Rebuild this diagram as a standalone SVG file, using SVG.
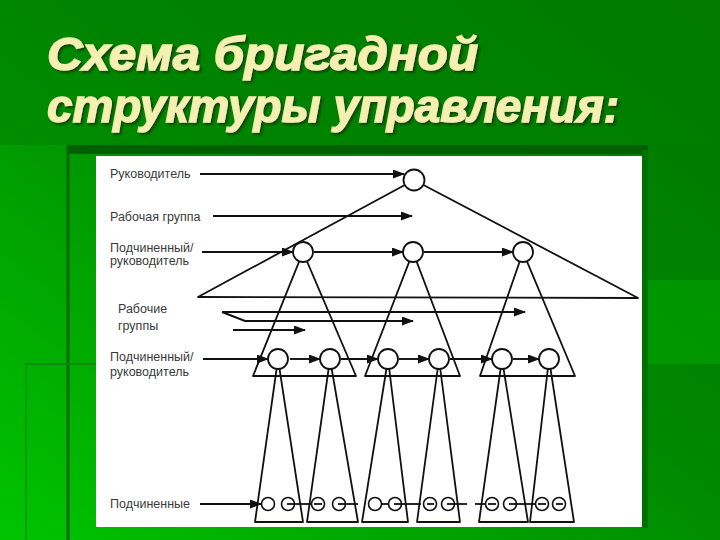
<svg xmlns="http://www.w3.org/2000/svg" width="720" height="540" viewBox="0 0 720 540">
<defs>
<linearGradient id="bg" x1="1" y1="0" x2="0" y2="1">
<stop offset="0" stop-color="#007600"/>
<stop offset="0.45" stop-color="#008800"/>
<stop offset="1" stop-color="#00c400"/>
</linearGradient>
<marker id="ah" markerWidth="12" markerHeight="9" refX="11" refY="4.5" orient="auto" markerUnits="userSpaceOnUse">
<path d="M0,0 L12,4.5 L0,9 z" fill="#111"/>
</marker>
<filter id="shadow" x="-5%" y="-20%" width="110%" height="140%">
<feDropShadow dx="2" dy="2" stdDeviation="0.8" flood-color="#1a3010" flood-opacity="0.8"/>
</filter>
</defs>
<style>
.ln{stroke:#111;stroke-width:1.8;fill:none;stroke-linejoin:round}
.ar{stroke:#111;stroke-width:1.9;fill:none;marker-end:url(#ah)}
.nd{fill:#fff;stroke:#111;stroke-width:1.8}
.sd{fill:#fff;stroke:#111;stroke-width:1.6}
.lb{font-family:"Liberation Sans",Arial,sans-serif;font-size:12.5px;fill:#3a3a3a}
.tt{font-family:"Liberation Sans",Arial,sans-serif;font-size:46px;font-weight:bold;font-style:italic;fill:#f3f0b2;stroke:#f3f0b2;stroke-width:1.4;filter:url(#shadow)}
</style>

<g id="background">
<rect x="0" y="0" width="720" height="540" fill="url(#bg)"/>
<rect x="0" y="0" width="720" height="145" fill="#008000" opacity="0.5"/>
<rect x="648" y="280" width="72" height="84" fill="#00a400" opacity="0.6"/>
<line x1="68" y1="145" x2="68" y2="540" stroke="#006a00" stroke-width="3"/>
<line x1="25" y1="364" x2="96" y2="364" stroke="#0a8a0a" stroke-width="2"/>
<line x1="26" y1="364" x2="26" y2="540" stroke="#0a9a0a" stroke-width="2"/>
<rect x="68" y="145" width="580" height="9" fill="#006000"/>
<rect x="642" y="150" width="6" height="378" fill="#007000"/>
<rect x="96" y="156" width="546" height="371" fill="#ffffff"/>
</g>

<g id="title">
<text class="tt" x="47" y="70" textLength="431" lengthAdjust="spacingAndGlyphs">Схема бригадной</text>
<text class="tt" x="47" y="122" textLength="572" lengthAdjust="spacingAndGlyphs">структуры управления:</text>
</g>

<g id="labels">
<text class="lb" x="110" y="178">Руководитель</text>
<text class="lb" x="110" y="221">Рабочая группа</text>
<text class="lb" x="110" y="252">Подчиненный/</text>
<text class="lb" x="110" y="265">руководитель</text>
<text class="lb" x="118" y="313">Рабочие</text>
<text class="lb" x="118" y="330">группы</text>
<text class="lb" x="110" y="361">Подчиненный/</text>
<text class="lb" x="110" y="376">руководитель</text>
<text class="lb" x="110" y="508">Подчиненные</text>
</g>

<g id="groups">
<polygon id="team-top" class="ln" points="414,180 198,297 638,298"/>
<polygon id="team-a" class="ln" points="303,252 253,376 356,376"/>
<polygon id="team-b" class="ln" points="413,252 365,376 460,376"/>
<polygon id="team-c" class="ln" points="523,252 480,376 575,376"/>
<polygon id="team-a1" class="ln" points="278,359 255,522 303,522"/>
<polygon id="team-a2" class="ln" points="330,359 307,522 358,522"/>
<polygon id="team-b1" class="ln" points="388,359 362,522 408,522"/>
<polygon id="team-b2" class="ln" points="439,359 417,522 460,522"/>
<polygon id="team-c1" class="ln" points="502,359 479,522 528,522"/>
<polygon id="team-c2" class="ln" points="549,359 530,522 574,522"/>
</g>

<g id="connectors">
<line class="ar" x1="200" y1="174" x2="404" y2="174"/>
<line class="ar" x1="213" y1="216" x2="412" y2="216"/>
<line class="ar" x1="202" y1="252" x2="293" y2="252"/>
<line class="ar" x1="314" y1="252" x2="403" y2="252"/>
<line class="ar" x1="424" y1="252" x2="513" y2="252"/>
<line class="ar" x1="222" y1="312" x2="525" y2="312"/>
<polyline class="ar" points="222,312 245,321 413,321"/>
<line class="ar" x1="233" y1="330" x2="305" y2="330"/>
<line class="ar" x1="203" y1="359" x2="268" y2="359"/>
<line class="ar" x1="290" y1="359" x2="320" y2="359"/>
<line class="ar" x1="341" y1="359" x2="378" y2="359"/>
<line class="ar" x1="399" y1="359" x2="429" y2="359"/>
<line class="ar" x1="450" y1="359" x2="492" y2="359"/>
<line class="ar" x1="513" y1="359" x2="539" y2="359"/>
<line class="ar" x1="200" y1="504" x2="261" y2="504"/>
<line class="ln" x1="295" y1="504" x2="312" y2="504"/>
<line class="ln" x1="345" y1="504" x2="358" y2="504"/>
<line class="ln" x1="382" y1="504" x2="388" y2="504"/>
<line class="ln" x1="402" y1="504" x2="421" y2="504"/>
<line class="ln" x1="455" y1="504" x2="467" y2="504"/>
<line class="ln" x1="475" y1="504" x2="486" y2="504"/>
<line class="ln" x1="517" y1="504" x2="535" y2="504"/>
</g>

<g id="leader"><circle class="nd" cx="414" cy="180" r="10.5"/></g>
<g id="mid-a"><circle class="nd" cx="303" cy="252" r="10"/></g>
<g id="mid-b"><circle class="nd" cx="413" cy="252" r="10"/></g>
<g id="mid-c"><circle class="nd" cx="523" cy="252" r="10"/></g>
<g id="low-a1"><circle class="nd" cx="278" cy="359" r="10"/></g>
<g id="low-a2"><circle class="nd" cx="330" cy="359" r="10"/></g>
<g id="low-b1"><circle class="nd" cx="388" cy="359" r="10"/></g>
<g id="low-b2"><circle class="nd" cx="439" cy="359" r="10"/></g>
<g id="low-c1"><circle class="nd" cx="502" cy="359" r="10"/></g>
<g id="low-c2"><circle class="nd" cx="549" cy="359" r="10"/></g>

<g id="sub-1"><circle class="sd" cx="268" cy="504" r="6.5"/></g>
<g id="sub-2"><circle class="sd" cx="288" cy="504" r="6.5"/><line class="ln" x1="287" y1="504" x2="295" y2="504"/></g>
<g id="sub-3"><circle class="sd" cx="318" cy="504" r="6.5"/><line class="ln" x1="314" y1="504" x2="322" y2="504"/></g>
<g id="sub-4"><circle class="sd" cx="339" cy="504" r="6.5"/><line class="ln" x1="338" y1="504" x2="346" y2="504"/></g>
<g id="sub-5"><circle class="sd" cx="375" cy="504" r="6.5"/></g>
<g id="sub-6"><circle class="sd" cx="395" cy="504" r="6.5"/><line class="ln" x1="394" y1="504" x2="402" y2="504"/></g>
<g id="sub-7"><circle class="sd" cx="430" cy="504" r="6.5"/><line class="ln" x1="427" y1="504" x2="434" y2="504"/></g>
<g id="sub-8"><circle class="sd" cx="448" cy="504" r="6.5"/><line class="ln" x1="447" y1="504" x2="455" y2="504"/></g>
<g id="sub-9"><circle class="sd" cx="492" cy="504" r="6.5"/><line class="ln" x1="488" y1="504" x2="496" y2="504"/></g>
<g id="sub-10"><circle class="sd" cx="510" cy="504" r="6.5"/><line class="ln" x1="509" y1="504" x2="517" y2="504"/></g>
<g id="sub-11"><circle class="sd" cx="542" cy="504" r="6.5"/><line class="ln" x1="538" y1="504" x2="546" y2="504"/></g>
<g id="sub-12"><circle class="sd" cx="559" cy="504" r="6.5"/><line class="ln" x1="556" y1="504" x2="563" y2="504"/></g>
</svg>
